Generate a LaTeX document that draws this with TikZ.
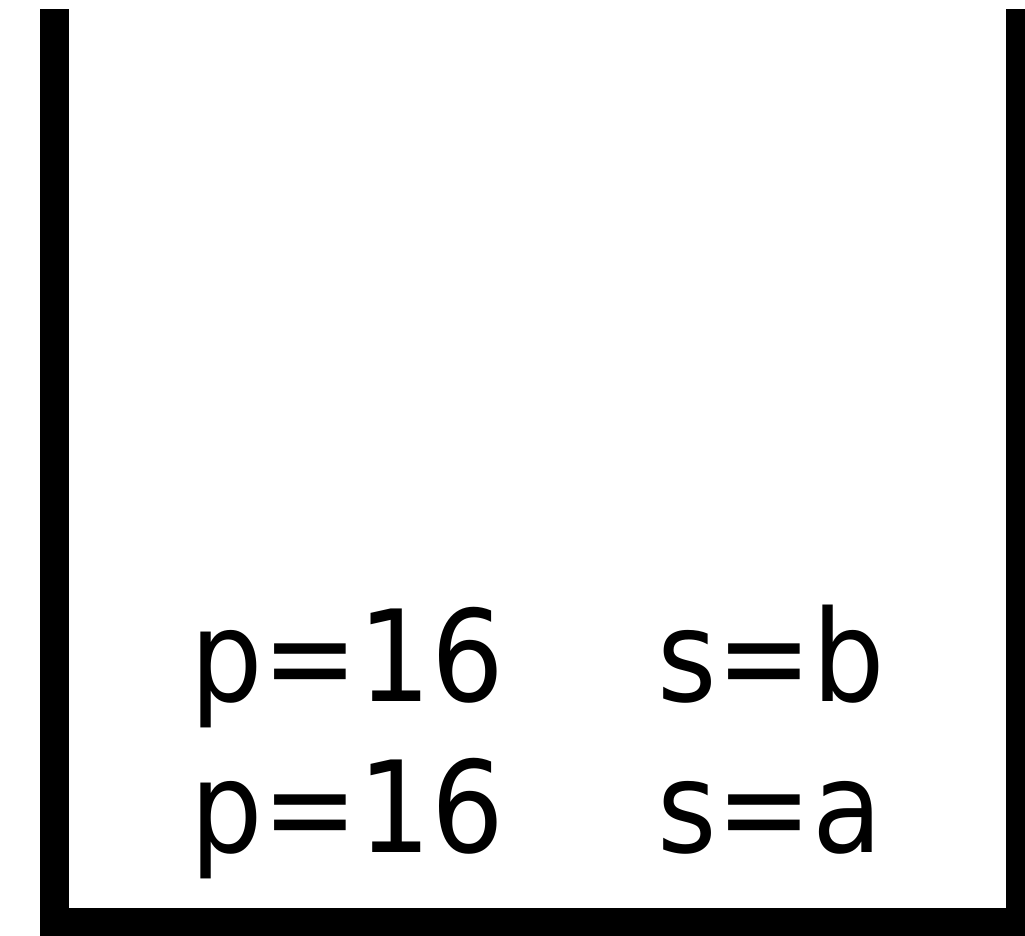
\documentclass[tikz,border=0pt]{standalone}
\usepackage{fontspec}
\setmainfont{DejaVu Sans Condensed}
\begin{document}
\begin{tikzpicture}[x=1pt, y=1pt,
  wall/.style={line width=29pt, line join=miter, line cap=butt},
  entry/.style={inner sep=0pt, anchor=base west, font=\fontsize{127}{150}\selectfont}]
\useasboundingbox (0,0) rectangle (1025,935);
\clip (0,0) rectangle (1025,935);
% stack walls
\draw[wall] (54.5,925.5) -- (54.5,12.5) -- (1020.5,12.5) -- (1020.5,925.5);
% stack entries, top to bottom
\node[entry] (p1) at (190,234) {p=16};
\node[entry] (s1) at (657,234) {s=b};
\node[entry] (p2) at (190,83) {p=16};
\node[entry] (s2) at (657,83) {s=a};
\end{tikzpicture}
\end{document}
